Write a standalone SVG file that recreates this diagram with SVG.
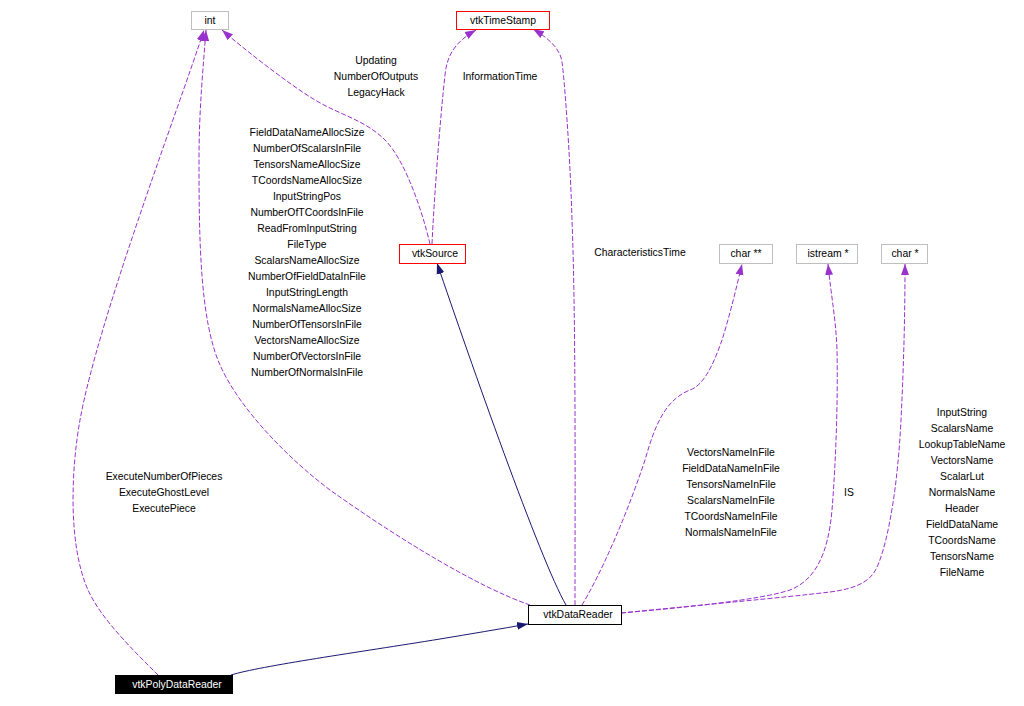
<svg xmlns="http://www.w3.org/2000/svg" width="1024" height="706" viewBox="0 0 1024 706">
<style>
text{font-family:"Liberation Sans",Arial,sans-serif;font-size:10.4px;fill:#000;text-anchor:middle}
.node rect{fill:#fff;stroke-width:1}
.gray{stroke:#bfbfbf}
.red{stroke:#ff0000}
.blk{stroke:#000}
.dep{fill:none;stroke:#9a32cd;stroke-width:1;stroke-dasharray:5,2;marker-end:url(#ap)}
.inh{fill:none;stroke:#191970;stroke-width:1;marker-end:url(#an)}
</style>
<defs>
<marker id="ap" markerUnits="userSpaceOnUse" markerWidth="12" markerHeight="9" refX="11" refY="4" orient="auto" viewBox="0 0 12 8">
<path d="M0,0 L11,4 L0,8 z" fill="#9a32cd" stroke="none"/>
</marker>
<marker id="an" markerUnits="userSpaceOnUse" markerWidth="12" markerHeight="9" refX="11" refY="4" orient="auto" viewBox="0 0 12 8">
<path d="M0,0 L11,4 L0,8 z" fill="#191970" stroke="none"/>
</marker>
</defs>
<rect width="1024" height="706" fill="#fff"/>
<g id="edges">
<path class="inh" d="M231,675 C260,666 360,652 440,639 C470,634 500,629 528,624"/>
<path class="inh" d="M566,605 C540,560 470,360 437,263"/>
<path class="dep" d="M158,675 C134,651 101,619 88,590 C68,545 71,470 80,420 C98,320 178,110 204,30"/>
<path class="dep" d="M530,605 C480,588 400,540 330,490 C290,460 240,410 220,365 C200,320 199,240 199,160 C199,110 203,70 206,30"/>
<path class="dep" d="M430,244 C422,210 405,160 385,140 C365,120 340,115 315,100 C290,85 245,50 222,30"/>
<path class="dep" d="M432,244 C434,200 440,120 445,75 C447,55 455,42 476,30"/>
<path class="dep" d="M575,605 C575,500 576,320 572,220 C570,150 564,75 562,62 C560,48 548,38 533,29"/>
<path class="dep" d="M582,605 C600,575 625,520 645,460 C655,425 665,400 690,390 C705,385 715,360 722,340 C730,315 737,285 742,264"/>
<path class="dep" d="M621,613 C680,608 760,600 790,590 C815,580 828,555 832,510 C836,460 838,400 837,350 C836,320 831,295 828,264"/>
<path class="dep" d="M621,613 C700,605 780,598 830,592 C860,588 872,580 878,565 C890,535 898,480 901,420 C904,360 905,310 905,264"/>
</g>
<g id="edge-labels">
<text x="376" y="64">Updating</text>
<text x="376" y="80">NumberOfOutputs</text>
<text x="376" y="96">LegacyHack</text>
<text x="500" y="80">InformationTime</text>
<text x="640" y="256">CharacteristicsTime</text>
<text x="307" y="136">FieldDataNameAllocSize</text>
<text x="307" y="152">NumberOfScalarsInFile</text>
<text x="307" y="168">TensorsNameAllocSize</text>
<text x="307" y="184">TCoordsNameAllocSize</text>
<text x="307" y="200">InputStringPos</text>
<text x="307" y="216">NumberOfTCoordsInFile</text>
<text x="307" y="232">ReadFromInputString</text>
<text x="307" y="248">FileType</text>
<text x="307" y="264">ScalarsNameAllocSize</text>
<text x="307" y="280">NumberOfFieldDataInFile</text>
<text x="307" y="296">InputStringLength</text>
<text x="307" y="312">NormalsNameAllocSize</text>
<text x="307" y="328">NumberOfTensorsInFile</text>
<text x="307" y="344">VectorsNameAllocSize</text>
<text x="307" y="360">NumberOfVectorsInFile</text>
<text x="307" y="376">NumberOfNormalsInFile</text>
<text x="164" y="480">ExecuteNumberOfPieces</text>
<text x="164" y="496">ExecuteGhostLevel</text>
<text x="164" y="512">ExecutePiece</text>
<text x="731" y="456">VectorsNameInFile</text>
<text x="731" y="472">FieldDataNameInFile</text>
<text x="731" y="488">TensorsNameInFile</text>
<text x="731" y="504">ScalarsNameInFile</text>
<text x="731" y="520">TCoordsNameInFile</text>
<text x="731" y="536">NormalsNameInFile</text>
<text x="849" y="496">IS</text>
<text x="962" y="416">InputString</text>
<text x="962" y="432">ScalarsName</text>
<text x="962" y="448">LookupTableName</text>
<text x="962" y="464">VectorsName</text>
<text x="962" y="480">ScalarLut</text>
<text x="962" y="496">NormalsName</text>
<text x="962" y="512">Header</text>
<text x="962" y="528">FieldDataName</text>
<text x="962" y="544">TCoordsName</text>
<text x="962" y="560">TensorsName</text>
<text x="962" y="576">FileName</text>
</g>
<g id="node-int" class="node"><rect class="gray" x="191.5" y="11.5" width="37" height="18"/><text x="210" y="24">int</text></g>
<g id="node-vtkTimeStamp" class="node"><rect class="red" x="456.5" y="11.5" width="93" height="18"/><text x="503" y="24">vtkTimeStamp</text></g>
<g id="node-vtkSource" class="node"><rect class="red" x="399.5" y="244.5" width="66" height="19"/><text x="435" y="257">vtkSource</text></g>
<g id="node-charpp" class="node"><rect class="gray" x="719.5" y="244.5" width="53" height="19"/><text x="746" y="257">char **</text></g>
<g id="node-istream" class="node"><rect class="gray" x="796.5" y="244.5" width="61" height="19"/><text x="828" y="257">istream *</text></g>
<g id="node-charp" class="node"><rect class="gray" x="881.5" y="244.5" width="46" height="19"/><text x="905" y="257">char *</text></g>
<g id="node-vtkDataReader" class="node"><rect class="blk" x="528.5" y="605.5" width="93" height="19"/><text x="578" y="618">vtkDataReader</text></g>
<g id="node-vtkPolyDataReader"><rect x="115" y="675" width="118" height="19" fill="#000"/><text x="177" y="688" style="fill:#fff">vtkPolyDataReader</text></g>
</svg>
